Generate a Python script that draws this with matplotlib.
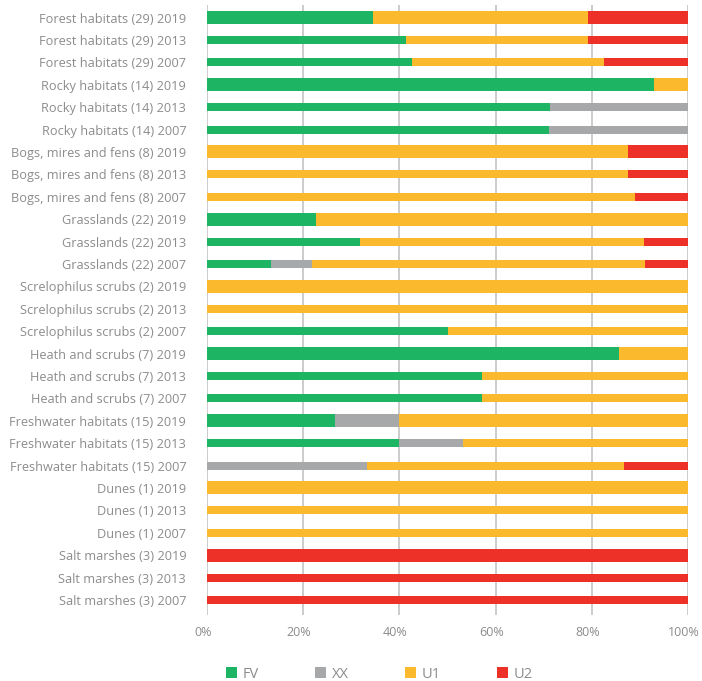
import matplotlib
matplotlib.use("Agg")
import matplotlib.pyplot as plt
import matplotlib.transforms as mtransforms
from matplotlib.patches import Patch
import numpy as np

plt.rcParams['font.family'] = ['Open Sans', 'DejaVu Sans']

labels = [
    "Forest habitats (29) 2019", "Forest habitats (29) 2013", "Forest habitats (29) 2007",
    "Rocky habitats (14) 2019", "Rocky habitats (14) 2013", "Rocky habitats (14) 2007",
    "Bogs, mires and fens (8) 2019", "Bogs, mires and fens (8) 2013", "Bogs, mires and fens (8) 2007",
    "Grasslands (22) 2019", "Grasslands (22) 2013", "Grasslands (22) 2007",
    "Screlophilus scrubs (2) 2019", "Screlophilus scrubs (2) 2013", "Screlophilus scrubs (2) 2007",
    "Heath and scrubs (7) 2019", "Heath and scrubs (7) 2013", "Heath and scrubs (7) 2007",
    "Freshwater habitats (15) 2019", "Freshwater habitats (15) 2013", "Freshwater habitats (15) 2007",
    "Dunes (1) 2019", "Dunes (1) 2013", "Dunes (1) 2007",
    "Salt marshes (3) 2019", "Salt marshes (3) 2013", "Salt marshes (3) 2007",
]

FV = [34.5, 41.4, 42.6, 92.9, 71.4, 71.0, 0, 0, 0, 22.7, 31.8, 13.3,
      0, 0, 50.0, 85.7, 57.1, 57.1, 26.7, 40.0, 0, 0, 0, 0, 0, 0, 0]
XX = [0, 0, 0, 0, 28.6, 29.0, 0, 0, 0, 0, 0, 8.6,
      0, 0, 0, 0, 0, 0, 13.3, 13.3, 33.3, 0, 0, 0, 0, 0, 0]
U1 = [44.8, 37.9, 39.9, 7.1, 0, 0, 87.5, 87.5, 89.0, 77.3, 59.1, 69.2,
      100, 100, 50.0, 14.3, 42.9, 42.9, 60.0, 46.7, 53.4, 100, 100, 100, 0, 0, 0]
U2 = [20.7, 20.7, 17.5, 0, 0, 0, 12.5, 12.5, 11.0, 0, 9.1, 8.9,
      0, 0, 0, 0, 0, 0, 0, 0, 13.3, 0, 0, 0, 100, 100, 100]

series_names = ["FV", "XX", "U1", "U2"]
colors = ["#1db463", "#a7a8aa", "#fbb92d", "#ee3128"]
xticks = [0, 20, 40, 60, 80, 100]
xticklabels = ["0%", "20%", "40%", "60%", "80%", "100%"]

W, H = 702, 681
fig = plt.figure(figsize=(W / 100, H / 100), dpi=100)
ax = fig.add_axes([207 / W, 1 - 615 / H, (688 - 207) / W, (615 - 5) / H])

y = np.arange(len(labels))
heights = [0.58 if lab.endswith("2019") else 0.36 for lab in labels]

left = np.zeros(len(labels))
for vals, col in zip([FV, XX, U1, U2], colors):
    v = np.array(vals, dtype=float)
    ax.barh(y, v, left=left, height=heights, color=col, linewidth=0, zorder=3)
    left += v

ax.set_xlim(0, 100)
ax.set_ylim(26.67, -0.56)
ax.set_yticks(y)
ax.set_yticklabels(labels, fontsize=9.2, color="#8c8c8c")
ax.set_xticks(xticks)
ax.set_xticklabels(xticklabels, fontsize=9.0, color="#8c8c8c")
ax.tick_params(axis="y", length=0, pad=15)
ax.tick_params(axis="x", length=0, pad=8)
shift = mtransforms.ScaledTranslation(-4 / 100, 0, fig.dpi_scale_trans)
for lab in ax.get_xticklabels():
    lab.set_transform(lab.get_transform() + shift)
for s in ax.spines.values():
    s.set_visible(False)
ax.grid(axis="x", color="#c4c4c4", linewidth=1.2, zorder=0)
ax.set_axisbelow(True)

handles = [Patch(facecolor=c, edgecolor="none", label=n) for n, c in zip(series_names, colors)]
fig.legend(handles=handles, loc="center left", bbox_to_anchor=(226 / W, 1 - 674 / H),
           ncol=4, frameon=False, fontsize=10.5, labelcolor="#8c8c8c",
           handlelength=0.75, handleheight=0.75, handletextpad=0.4, columnspacing=3.85,
           borderaxespad=0, borderpad=0)

fig.savefig("out.png", dpi=100)
